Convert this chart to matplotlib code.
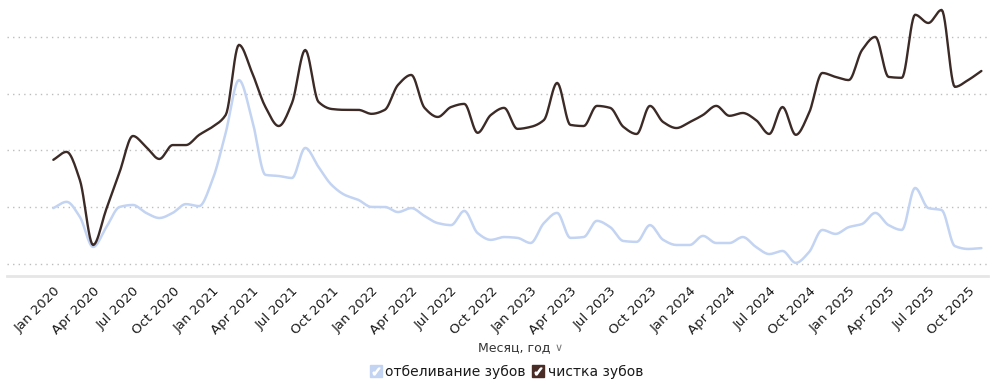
import numpy as np
import matplotlib
matplotlib.use("Agg")
import matplotlib.pyplot as plt
from matplotlib.lines import Line2D
from matplotlib.legend_handler import HandlerTuple

# monthly values, Jan 2020 .. Nov 2025
months = np.arange(71)
cleaning = [36.7, 39.5, 29.6, 6.7, 19.4, 32.4, 45.1, 41.2, 37.0, 41.9, 41.9, 45.5,
            48.3, 52.5, 77.2, 67.3, 55.3, 48.6, 56.7, 75.4, 57.1, 54.6, 54.3, 54.3,
            52.9, 54.3, 63.1, 66.6, 55.0, 51.8, 55.3, 56.4, 46.2, 52.5, 55.0, 47.6,
            48.3, 50.7, 63.8, 49.0, 48.6, 55.7, 55.0, 48.3, 45.8, 55.7, 50.0, 47.9,
            50.0, 52.5, 55.7, 52.2, 53.2, 50.7, 45.8, 55.3, 45.5, 53.2, 67.3, 65.9,
            64.8, 75.4, 80.0, 65.9, 65.6, 87.8, 84.9, 89.5, 62.4, 64.8, 68.0]
whitening = [19.7, 21.9, 16.6, 6.0, 13.0, 20.1, 20.8, 18.0, 16.2, 18.0, 21.1, 20.4,
             29.6, 46.2, 64.8, 50.7, 31.4, 31.0, 30.3, 40.9, 34.2, 27.8, 24.3, 22.6,
             20.1, 20.1, 18.3, 19.7, 16.9, 14.4, 13.7, 18.7, 10.9, 8.5, 9.5, 9.2,
             7.4, 14.4, 18.0, 9.2, 9.5, 15.2, 13.0, 8.1, 7.8, 13.7, 8.5, 6.7,
             6.7, 9.9, 7.4, 7.4, 9.5, 6.0, 3.5, 4.6, 0.4, 4.2, 12.0, 10.6,
             13.0, 14.1, 18.0, 13.7, 12.0, 26.8, 19.7, 19.0, 6.3, 5.3, 5.6]

tick_pos = np.arange(0, 70, 3)
tick_labels = [f"{m} {y}" for y in range(2020, 2026) for m in ["Jan", "Apr", "Jul", "Oct"]]


def smooth(x, y, n=12):
    # monotone cubic (Fritsch-Carlson) for a smooth curve through the points
    x = np.asarray(x, float)
    y = np.asarray(y, float)
    h = np.diff(x)
    d = np.diff(y) / h
    m = np.zeros_like(y)
    m[0], m[-1] = d[0], d[-1]
    for k in range(1, len(y) - 1):
        if d[k - 1] * d[k] > 0:
            m[k] = 2 / (1 / d[k - 1] + 1 / d[k])
    xs, ys = [], []
    for k in range(len(x) - 1):
        t = np.linspace(0, 1, n, endpoint=False)
        h00 = 2 * t**3 - 3 * t**2 + 1
        h10 = t**3 - 2 * t**2 + t
        h01 = -2 * t**3 + 3 * t**2
        h11 = t**3 - t**2
        xs.append(x[k] + t * h[k])
        ys.append(h00 * y[k] + h10 * h[k] * m[k] + h01 * y[k + 1] + h11 * h[k] * m[k + 1])
    xs.append([x[-1]])
    ys.append([y[-1]])
    return np.concatenate(xs), np.concatenate(ys)


fig = plt.figure(figsize=(9.9, 3.87), dpi=100)
ax = fig.add_axes([0.007, 0.287, 0.991, 0.713])

blue = "#c3d3f2"
brown = "#3b2a26"

xw, yw = smooth(months, whitening)
xc, yc = smooth(months, cleaning)
ax.plot(xw, yw, color=blue, lw=1.8, solid_capstyle="round")
ax.plot(xc, yc, color=brown, lw=1.7, solid_capstyle="round")

ax.set_xlim(-3.5, 70.5)
ax.set_ylim(-4.2, 93)
ax.set_yticks([0, 20, 40, 60, 80])
ax.yaxis.grid(True, linestyle=(0, (1, 3)), color="#bdbdbd", lw=1)
ax.set_axisbelow(True)
ax.tick_params(axis="y", left=False, labelleft=False)
ax.set_xticks(tick_pos)
ax.set_xticklabels(tick_labels, rotation=45, ha="right", va="top",
                   rotation_mode="anchor", fontsize=9.5, color="#1a1a1a")
ax.tick_params(axis="x", length=0, pad=6)
for s in ["top", "left", "right"]:
    ax.spines[s].set_visible(False)
ax.spines["bottom"].set_color("#e6e6e6")
ax.spines["bottom"].set_linewidth(2)

# axis title with dropdown chevron
fig.text(0.556, 0.103, "Месяц, год", ha="right", va="center", fontsize=9, color="#333333")
fig.text(0.5645, 0.101, "\u2228", ha="center", va="center", fontsize=8, color="#777777")

check = "$\u2713$"
h_blue = (Line2D([], [], marker="s", ls="", markersize=9, color=blue),
          Line2D([], [], marker=check, ls="", markersize=5, color="white"))
h_brown = (Line2D([], [], marker="s", ls="", markersize=9, color="#4a2c26"),
           Line2D([], [], marker=check, ls="", markersize=5, color="white"))
fig.legend([h_blue, h_brown], ["отбеливание зубов", "чистка зубов"],
           handler_map={tuple: HandlerTuple(ndivide=1)},
           loc="center", bbox_to_anchor=(0.512, 0.04), ncol=2, frameon=False,
           fontsize=10, handlelength=0.8, handletextpad=0.3, columnspacing=0.5,
           labelcolor="#1a1a1a")

fig.savefig("out.png", dpi=100)
